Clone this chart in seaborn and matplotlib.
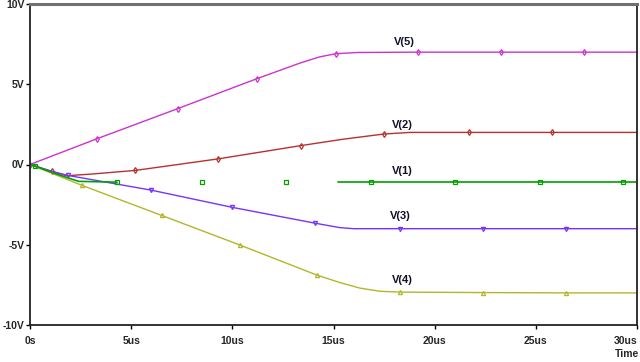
import numpy as np
import matplotlib
matplotlib.use("Agg")
import matplotlib.pyplot as plt
import seaborn as sns

# time in us, voltage in V
t_v5 = [0, 3.3, 7.3, 11.2, 13.3, 14.3, 15.1, 16.2, 19.2, 23.3, 27.4, 30]
v_v5 = [0, 1.6, 3.48, 5.34, 6.3, 6.7, 6.9, 6.98, 7.0, 7.0, 7.0, 7.0]
mk_v5 = [0, 1, 2, 3, 6, 8, 9, 10]

t_v2 = [0, 1.08, 1.8, 3.0, 5.2, 9.3, 13.4, 15.5, 17.5, 18.8, 21.7, 25.8, 30]
v_v2 = [0, -0.43, -0.7, -0.6, -0.37, 0.35, 1.18, 1.58, 1.9, 2.0, 2.0, 2.0, 2.0]
mk_v2 = [1, 4, 5, 6, 8, 10, 11]

t_v1 = [0, 0.25, 1.2, 2.4, 4.3, 8.5, 12.65, 15.2, 16.85, 21.0, 25.2, 29.3, 30]
v_v1 = [0, -0.1, -0.55, -1.05, -1.1, -1.1, -1.1, -1.1, -1.1, -1.1, -1.1, -1.1, -1.1]
mk_v1 = [1, 4, 5, 6, 8, 9, 10, 11]
seg_v1 = [(0, 5), (7, 13)]   # the line is only drawn on these stretches

t_v3 = [0, 1.0, 1.87, 6.0, 10.0, 14.1, 15.3, 16.0, 18.3, 22.4, 26.5, 30]
v_v3 = [0, -0.4, -0.68, -1.6, -2.67, -3.66, -3.93, -4.0, -4.0, -4.0, -4.0, -4.0]
mk_v3 = [2, 3, 4, 5, 8, 9, 10]

t_v4 = [0, 2.57, 6.5, 10.4, 14.2, 15.3, 16.3, 17.3, 18.3, 22.4, 26.5, 30]
v_v4 = [0, -1.3, -3.17, -5.03, -6.9, -7.35, -7.7, -7.9, -7.95, -7.98, -8.0, -8.0]
mk_v4 = [1, 2, 3, 4, 8, 9, 10]

names = ["V(5)", "V(2)", "V(1)", "V(3)", "V(4)"]
label_t = [18.5, 18.4, 18.4, 18.3, 18.4]
label_v = [7.64, 2.48, -0.43, -3.23, -7.2]

yticks = [-10, -5, 0, 5, 10]
ytick_labels = ["-10V", "-5V", "0V", "5V", "10V"]
xticks = [0, 5, 10, 15, 20, 25, 30]
xtick_labels = ["0s", "5us", "10us", "15us", "20us", "25us", "30us"]

sns.set_style("white")
plt.rcParams["font.family"] = ["Liberation Sans", "DejaVu Sans"]

fig = plt.figure(figsize=(6.4, 3.62), dpi=100)
ax = fig.add_axes([30 / 640, 37 / 362, 607 / 640, 321 / 362])


def trace(t, v, col, mk, idx):
    sns.lineplot(x=t, y=v, ax=ax, color=col, lw=1.0, marker=mk, markevery=idx,
                 ms=3, mfc="none", mec=col, mew=0.9)


trace(t_v5, v_v5, "#CC33CC", "d", mk_v5)
trace(t_v2, v_v2, "#B83030", "d", mk_v2)
trace(t_v3, v_v3, "#7733FF", "v", mk_v3)
trace(t_v4, v_v4, "#B5B52A", "^", mk_v4)

# V(1): line has a gap in the middle, markers everywhere
for a, b in seg_v1:
    sns.lineplot(x=t_v1[a:b], y=v_v1[a:b], ax=ax, color="#00A000", lw=1.2)
ax.plot([t_v1[i] for i in mk_v1], [v_v1[i] for i in mk_v1], ls="none",
        marker="s", ms=3, mfc="none", mec="#00A000", mew=0.9)

for n, tx, vy in zip(names, label_t, label_v):
    ax.text(tx, vy, n, ha="center", va="center", fontsize=8, fontweight="bold", color="#101028")

ax.set_xlim(0, 30)
ax.set_ylim(-10, 10)
ax.set_xticks(xticks)
ax.set_xticklabels(xtick_labels, fontsize=7.5, fontweight="bold")
ax.set_yticks(yticks)
ax.set_yticklabels(ytick_labels, fontsize=7.5, fontweight="bold")
ax.tick_params(axis="both", direction="out", length=3, width=1, color="black", pad=1, left=True, bottom=True)
ax.tick_params(axis="x", pad=5)
ax.get_xticklabels()[-1].set_ha("right")

for s in ["left", "right", "bottom"]:
    ax.spines[s].set_color("#222222")
    ax.spines[s].set_linewidth(1.3)
ax.spines["top"].set_color("#707070")
ax.spines["top"].set_linewidth(2.2)

fig.text(639 / 640, 3 / 362, "Time", ha="right", va="bottom", fontsize=7.5, fontweight="bold")

fig.savefig("out.png", dpi=100)
